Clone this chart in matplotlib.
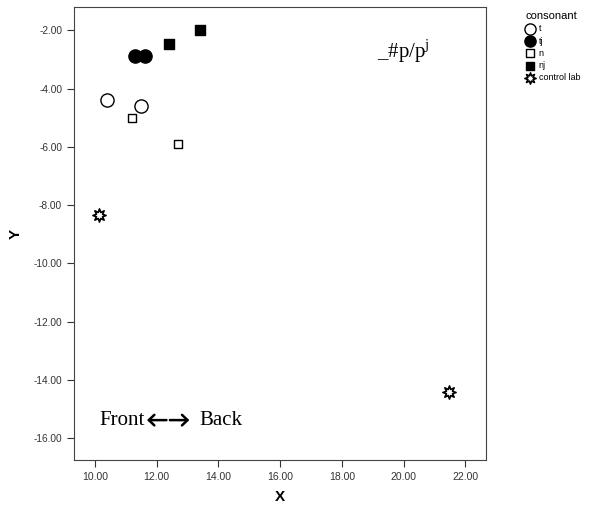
import matplotlib
matplotlib.use("Agg")
import matplotlib.pyplot as plt
from matplotlib.text import OffsetFrom

plt.rcParams['font.family'] = ['Liberation Sans', 'DejaVu Sans']

# data
t_x = [10.39, 11.49]
t_y = [-4.40, -4.61]
tj_x = [11.30, 11.62]
tj_y = [-2.89, -2.89]
n_x = [11.20, 12.69]
n_y = [-5.00, -5.90]
nj_x = [12.40, 13.40]
nj_y = [-2.48, -2.00]
ctrl_x = [10.13, 21.48]
ctrl_y = [-8.35, -14.42]

xticks = [10, 12, 14, 16, 18, 20, 22]
yticks = [-2, -4, -6, -8, -10, -12, -14, -16]

fig = plt.figure(figsize=(6.01, 5.13), dpi=100)
ax = fig.add_axes([0.123, 0.103, 0.686, 0.883])

ax.scatter(t_x, t_y, s=90, facecolors='white', edgecolors='black', linewidths=1.0, label='t', zorder=3)
ax.scatter(tj_x, tj_y, s=90, facecolors='black', edgecolors='black', label='tj', zorder=3)
ax.scatter(n_x, n_y, s=40, marker='s', facecolors='white', edgecolors='black', linewidths=1.0, label='n', zorder=3)
ax.scatter(nj_x, nj_y, s=50, marker='s', facecolors='black', edgecolors='black', label='nj', zorder=3)
ax.scatter(ctrl_x, ctrl_y, s=90, marker=(8, 1, 0), facecolors='white', edgecolors='black', linewidths=1.2, label='control lab', zorder=3)

ax.set_xlim(9.32, 22.68)
ax.set_ylim(-16.75, -1.21)
ax.set_xticks(xticks)
ax.set_yticks(yticks)
ax.set_xticklabels(['%.2f' % v for v in xticks], fontsize=7.5, color='#333333')
ax.set_yticklabels(['%.2f' % v for v in yticks], fontsize=7.3, color='#333333')
ax.tick_params(length=5, width=0.8, color='#333333')
for s in ax.spines.values():
    s.set_linewidth(0.8)
    s.set_color('#444444')

ax.set_xlabel('X', fontsize=11, fontweight='bold', labelpad=6)
ax.set_ylabel('Y', fontsize=11, fontweight='bold', labelpad=8)

serif = ['Liberation Serif', 'DejaVu Serif']
ax.text(19.15, -2.95, r'_#p/p$^\mathdefault{j}$', fontsize=15, family=serif)

# "Front <-> Back": two drawn arrows next to the word
t1 = ax.text(10.15, -15.4, 'Front', fontsize=15, family=serif, va='center')
off = OffsetFrom(t1, (1, 0.5))
arr = dict(arrowstyle='->,head_length=0.4,head_width=0.38', lw=1.8, color='black', shrinkA=0, shrinkB=0)
ax.annotate('', xy=(1.5, 0.5), xycoords=off, xytext=(15.5, 0.5), textcoords=off, arrowprops=arr)
ax.annotate('', xy=(32, 0.5), xycoords=off, xytext=(18, 0.5), textcoords=off, arrowprops=arr)
ax.annotate('Back', xy=(0, 0), xycoords=off, xytext=(39, 0), textcoords=off,
            fontsize=15, family=serif, va='center')

leg = fig.legend(loc='upper left', bbox_to_anchor=(0.868, 0.985), frameon=False, title='consonant',
                 fontsize=6.5, title_fontsize=8, handletextpad=0.5, labelspacing=0.35,
                 handlelength=1.0, borderaxespad=0, markerscale=0.85)
leg._legend_box.align = 'left'

fig.savefig('out.png', dpi=100)
